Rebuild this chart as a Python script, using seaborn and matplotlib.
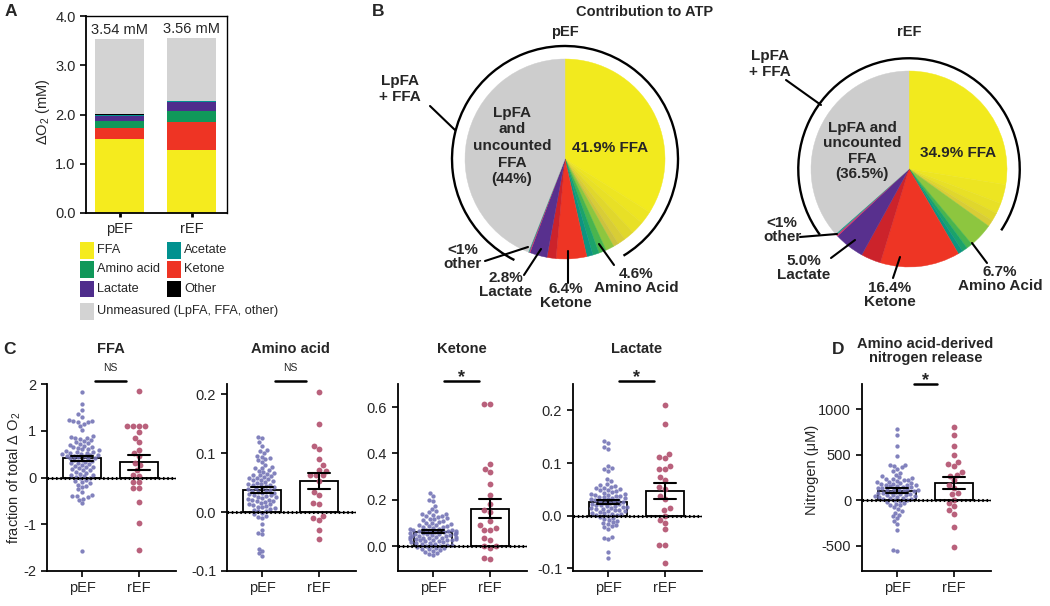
import numpy as np
import pandas as pd
import matplotlib.pyplot as plt
import seaborn as sns
from matplotlib.patches import Rectangle, Arc
from matplotlib.lines import Line2D

W, H = 1050, 606
groups = ["pEF", "rEF"]

# ---- A: oxygen consumption split by substrate (mM)
stack_names = ["FFA", "Ketone", "Amino acid", "Lactate", "Acetate", "Other", "Unmeasured"]
stack_colors = ["#F5EB1E", "#EE3424", "#10985A", "#4F2D8C", "#01918F", "#000000", "#D3D3D3"]
pef_o2 = [1.50, 0.23, 0.14, 0.10, 0.03, 0.003, 1.537]
ref_o2 = [1.28, 0.57, 0.23, 0.17, 0.03, 0.003, 1.277]
o2_totals = ["3.54 mM", "3.56 mM"]

# ---- B: contribution to ATP (%)
pie_cats = ["FFA", "Amino acid", "Ketone", "Lactate", "Other", "LpFA and uncounted FFA"]
pef_pct = [41.9, 4.6, 6.4, 2.8, 0.3, 44.0]
ref_pct = [34.9, 6.7, 16.4, 5.0, 0.5, 36.5]
# colour bands inside each slice (fraction of the slice)
pef_split = [[0.81, 0.05, 0.05, 0.04, 0.03, 0.02], [0.30, 0.26, 0.22, 0.22], [0.77, 0.23], [1.0], [0.5, 0.5], [1.0]]
ref_split = [[0.79, 0.09, 0.05, 0.04, 0.03], [0.60, 0.15, 0.13, 0.12], [0.80, 0.20], [1.0], [0.5, 0.5], [1.0]]
slice_shades = [
    ["#F2EA1E", "#EDE522", "#E8E026", "#E0D72C", "#D8CD36", "#CCC23E"],
    ["#8DC63F", "#49B54E", "#1BA36A", "#0E9480"],
    ["#EE3524", "#CC232B"],
    ["#58308E"],
    ["#D6336C", "#2A9D8F"],
    ["#CDCDCD"],
]

# ---- C / D: per-patient values
pef_ffa = [1.82, 1.58, 1.45, 1.35, 1.30, 1.22, 1.21, 1.20, 1.19, 1.18, 1.15, 1.10, 1.02,
           0.88, 0.86, 0.85, 0.84, 0.83, 0.80, 0.78, 0.75, 0.73, 0.72, 0.70, 0.68, 0.66, 0.65, 0.63, 0.62, 0.60,
           0.58, 0.57, 0.55, 0.54, 0.53, 0.52, 0.51, 0.50, 0.49, 0.48, 0.47, 0.46, 0.45, 0.44, 0.42, 0.41, 0.40,
           0.38, 0.37, 0.35, 0.33, 0.32, 0.30, 0.28, 0.27, 0.25, 0.23, 0.22, 0.20, 0.18, 0.16, 0.15, 0.12, 0.10,
           0.08, 0.06, 0.05, 0.03, 0.02, 0.00, -0.02, -0.05, -0.08, -0.10, -0.12, -0.15, -0.18, -0.20, -0.25,
           -0.30, -0.38, -0.40, -0.40, -0.42, -0.45, -0.48, -0.55, -1.57]
ref_ffa = [1.85, 1.11, 1.11, 1.11, 1.10, 0.97, 0.84, 0.75, 0.59, 0.52, 0.45, 0.32, 0.27, 0.16,
           0.06, 0.04, -0.09, -0.09, -0.22, -0.22, -0.53, -0.98, -1.55]

pef_aa = [0.128, 0.125, 0.118, 0.112, 0.105, 0.104, 0.100, 0.095, 0.094, 0.092,
          0.090, 0.088, 0.085, 0.080, 0.076, 0.075, 0.074, 0.072, 0.070, 0.068,
          0.066, 0.065, 0.063, 0.062, 0.061, 0.060, 0.058, 0.057, 0.056, 0.055,
          0.054, 0.052, 0.051, 0.050, 0.048, 0.047, 0.046, 0.045, 0.044, 0.042,
          0.041, 0.040, 0.039, 0.038, 0.036, 0.035, 0.034, 0.033, 0.032, 0.030,
          0.029, 0.028, 0.027, 0.026, 0.025, 0.024, 0.022, 0.021, 0.020, 0.019,
          0.018, 0.017, 0.015, 0.014, 0.013, 0.012, 0.010, 0.009, 0.008, 0.006,
          0.005, 0.004, 0.002, 0.001, -0.001, -0.004, -0.006, -0.008, -0.010, -0.020,
          -0.030, -0.035, -0.038, -0.062, -0.066, -0.070, -0.075]
ref_aa = [0.203, 0.150, 0.112, 0.106, 0.090, 0.079, 0.072, 0.070, 0.063, 0.062, 0.062,
          0.053, 0.034, 0.029, 0.016, 0.014, -0.006, -0.011, -0.014, -0.030, -0.046]

pef_ket = [0.228, 0.215, 0.200, 0.195, 0.175, 0.160, 0.150, 0.145, 0.140, 0.138,
           0.135, 0.130, 0.128, 0.125, 0.120, 0.118, 0.115, 0.112, 0.110, 0.105,
           0.100, 0.098, 0.095, 0.092, 0.090, 0.088, 0.085, 0.082, 0.080, 0.078,
           0.075, 0.072, 0.070, 0.068, 0.066, 0.064, 0.062, 0.060, 0.058, 0.056,
           0.054, 0.052, 0.050, 0.048, 0.046, 0.044, 0.042, 0.040, 0.038, 0.036,
           0.034, 0.032, 0.030, 0.028, 0.026, 0.024, 0.022, 0.020, 0.018, 0.016,
           0.014, 0.012, 0.010, 0.008, 0.006, 0.004, 0.002, 0.000,
           0.065, 0.055, 0.045, 0.035, 0.025, 0.050, 0.040, 0.030, 0.060, 0.070,
           -0.002, -0.005, -0.008, -0.010, -0.012, -0.015, -0.018, -0.020, -0.025, -0.030, -0.035, -0.040]
ref_ket = [0.614, 0.612, 0.355, 0.334, 0.321, 0.266, 0.220, 0.183, 0.155, 0.147, 0.108,
           0.089, 0.076, 0.068, 0.068, 0.033, 0.026, 0.000, 0.000, -0.007, -0.050, -0.055]

pef_lac = [0.142, 0.138, 0.130, 0.127, 0.095, 0.090, 0.088, 0.085, 0.070, 0.065,
           0.060, 0.058, 0.056, 0.055, 0.053, 0.052, 0.050, 0.049, 0.048, 0.046,
           0.045, 0.044, 0.042, 0.041, 0.040, 0.039, 0.038, 0.037, 0.036, 0.035,
           0.034, 0.033, 0.032, 0.031, 0.030, 0.029, 0.028, 0.027, 0.026, 0.025,
           0.024, 0.023, 0.022, 0.021, 0.020, 0.019, 0.018, 0.017, 0.016, 0.015,
           0.014, 0.013, 0.012, 0.011, 0.010, 0.009, 0.008, 0.007, 0.006, 0.005,
           0.004, 0.003, 0.002, 0.001, 0.000,
           -0.002, -0.004, -0.006, -0.008, -0.010, -0.012, -0.014, -0.016, -0.018, -0.020,
           -0.022, -0.025, -0.040, -0.042, -0.045, -0.068, -0.080]
ref_lac = [0.211, 0.174, 0.117, 0.109, 0.111, 0.095, 0.089, 0.089, 0.073, 0.068, 0.054, 0.051,
           0.037, 0.032, 0.015, 0.011, 0.000, -0.008, -0.013, -0.025, -0.055, -0.055, -0.090]

pef_n = [780, 720, 590, 480, 390, 385, 375, 360, 340, 320,
         300, 280, 260, 250, 240, 235, 230, 225, 220, 210,
         200, 195, 190, 185, 180, 175, 170, 165, 160, 155,
         150, 145, 140, 135, 130, 125, 120, 115, 110, 105,
         100, 95, 90, 85, 80, 75, 70, 65, 60, 55,
         50, 45, 40, 35, 30, 25, 20, 15, 10, 5,
         0, -10, -20, -30, -40, -50, -60, -80, -100, -120,
         -140, -160, -180, -200, -230, -260, -330, -550, -565]
ref_n = [803, 719, 595, 493, 420, 391, 372, 310, 274, 266, 219, 164, 128, 73, 62, 0,
         -36, -66, -110, -150, -292, -518]

pef_color = "#7474B6"
ref_color = "#B2506E"

sns.set_style("ticks")
plt.rcParams["font.family"] = ["Liberation Sans", "DejaVu Sans"]
plt.rcParams["axes.unicode_minus"] = False
plt.rcParams["mathtext.default"] = "regular"

fig = plt.figure(figsize=(10.5, 6.06), dpi=100)


def px_axes(x0, y0, x1, y1):
    return fig.add_axes([x0 / W, 1 - y1 / H, (x1 - x0) / W, (y1 - y0) / H])


def ftext(x, y, s, **kw):
    kw.setdefault("ha", "center")
    kw.setdefault("va", "center")
    return fig.text(x / W, 1 - y / H, s, **kw)


def fline(x0, y0, x1, y1, lw=1.5):
    fig.add_artist(Line2D([x0 / W, x1 / W], [1 - y0 / H, 1 - y1 / H],
                          transform=fig.transFigure, color="black", lw=lw))


def style_ticks(ax):
    ax.tick_params(axis="both", direction="out", length=4, width=1.2, labelsize=10.5, color="black")
    for s in ax.spines.values():
        s.set_linewidth(1.3)
        s.set_color("black")


# ---------------- panel A
axA = px_axes(86, 16, 227, 213)
cum = np.cumsum([pef_o2, ref_o2], axis=1)
for i in reversed(range(len(stack_names))):
    sns.barplot(x=groups, y=cum[:, i], color=stack_colors[i], saturation=1, width=0.68,
                errorbar=None, linewidth=0, ax=axA)
axA.set_xlim(-0.47, 1.49)
axA.set_ylim(0, 4)
axA.set_yticks([0, 1, 2, 3, 4])
axA.set_yticklabels(["0.0", "1.0", "2.0", "3.0", "4.0"])
for i, t in enumerate(o2_totals):
    axA.text(i, cum[i, -1] + 0.04, t, ha="center", va="bottom", fontsize=10.5)
axA.set_xlabel("")
axA.set_ylabel("")
style_ticks(axA)
axA.tick_params(axis="x", length=3, width=2)
axA.spines["top"].set_linewidth(1.0)
axA.spines["right"].set_linewidth(1.0)
ftext(43, 112, "ΔO$_2$ (mM)", rotation=90, fontsize=10.5)

# legend for A
cmap = dict(zip(stack_names, stack_colors))
legend_left = ["FFA", "Amino acid", "Lactate"]
legend_right = ["Acetate", "Ketone", "Other"]
rows = [250, 269, 289]
for names, bx in [(legend_left, 80), (legend_right, 167)]:
    for name, ry in zip(names, rows):
        fig.add_artist(Rectangle((bx / W, 1 - (ry + 8.5) / H), 14 / W, 17 / H,
                                 transform=fig.transFigure, facecolor=cmap[name], edgecolor="none"))
        ftext(bx + 17, ry, name, ha="left", fontsize=9.2)
fig.add_artist(Rectangle((80 / W, 1 - (311 + 8.5) / H), 14 / W, 17 / H,
                         transform=fig.transFigure, facecolor=cmap["Unmeasured"], edgecolor="none"))
ftext(97, 311, "Unmeasured (LpFA, FFA, other)", ha="left", fontsize=9.2)

# ---------------- panel B
bold = dict(fontweight="bold", fontsize=11)
ftext(645, 12, "Contribution to ATP", fontweight="bold", fontsize=10.5)
pie_specs = [("pEF", pef_pct, pef_split, 565, 159, 100), ("rEF", ref_pct, ref_split, 909, 169, 98)]
for name, pct, split, cx, cy, r in pie_specs:
    ax = px_axes(cx - 1.6 * r, cy - 1.6 * r, cx + 1.6 * r, cy + 1.6 * r)
    vals, cols = [], []
    for p, fr, shades in zip(pct, split, slice_shades):
        for f, c in zip(fr, shades):
            vals.append(p * f)
            cols.append(c)
    wedges, _ = ax.pie(vals, colors=cols, startangle=90, counterclock=False,
                       wedgeprops=dict(linewidth=0.3))
    for w in wedges:
        w.set_edgecolor(w.get_facecolor())
    ax.set_xlim(-1.6, 1.6)
    ax.set_ylim(-1.6, 1.6)
    t1 = 90 - pct[0] * 3.6 + 2
    t2 = 90 + pct[-1] * 3.6 - 5
    ax.add_patch(Arc((0, 0), 2.26, 2.26, theta1=t1, theta2=t2, lw=1.7, color="black"))
    ftext(cx, 32, name, fontweight="bold", fontsize=10.5)

# pEF labels
ftext(400, 89, "LpFA\n+ FFA", linespacing=1.1, **bold)
fline(430, 106, 455, 130)
ftext(512, 146, "LpFA\nand\nuncounted\nFFA\n(44%)", linespacing=1.25, **bold)
ftext(610, 148, "41.9% FFA", **bold)
ftext(463, 257, "<1%\nother", linespacing=1.0, **bold)
fline(485, 261, 528, 247)
ftext(506, 285, "2.8%\nLactate", linespacing=1.0, **bold)
fline(524, 275, 541, 249)
ftext(566, 296, "6.4%\nKetone", linespacing=1.0, **bold)
fline(568, 283, 568, 251)
ftext(636, 281, "4.6%\nAmino Acid", linespacing=1.0, **bold)
fline(614, 265, 599, 244)

# rEF labels
ftext(770, 64, "LpFA\n+ FFA", linespacing=1.1, **bold)
fline(786, 80, 821, 105)
ftext(862, 151, "LpFA and\nuncounted\nFFA\n(36.5%)", linespacing=1.15, **bold)
ftext(958, 153, "34.9% FFA", **bold)
ftext(782, 230, "<1%\nother", linespacing=1.0, **bold)
fline(800, 237, 837, 234)
ftext(804, 268, "5.0%\nLactate", linespacing=1.0, **bold)
fline(831, 258, 855, 240)
ftext(890, 295, "16.4%\nKetone", linespacing=1.0, **bold)
fline(893, 278, 900, 257)
ftext(1000, 279, "6.7%\nAmino Acid", linespacing=1.0, **bold)
fline(987, 263, 972, 243)

# ---------------- panels C and D
unit = 57
c_specs = [
    ("FFA", pef_ffa, ref_ffa, 82, (-2, 2), [-2, -1, 0, 1, 2], "{:.0f}", "NS", 381),
    ("Amino acid", pef_aa, ref_aa, 262, (-0.1, 0.217), [-0.1, 0, 0.1, 0.2], "{:.1f}", "NS", 381),
    ("Ketone", pef_ket, ref_ket, 433, (-0.108, 0.70), [0, 0.2, 0.4, 0.6], "{:.1f}", "*", 381),
    ("Lactate", pef_lac, ref_lac, 608, (-0.105, 0.25), [-0.1, 0, 0.1, 0.2], "{:.1f}", "*", 381),
    ("Amino acid-derived\nnitrogen release", pef_n, ref_n, 897, (-780, 1275),
     [-500, 0, 500, 1000], "{:.0f}", "*", 384),
]
for title, p, r, px0, ylim, ticks, fmt, sig, sy in c_specs:
    ax = px_axes(px0 - 0.62 * unit, 384, px0 + 1.65 * unit, 571)
    df = pd.DataFrame({"group": ["pEF"] * len(p) + ["rEF"] * len(r), "value": p + r})
    sns.barplot(data=df, x="group", y="value", order=groups, errorbar="se", capsize=0.4,
                width=0.66, color="white", saturation=1, edgecolor="black", linewidth=1.3,
                err_kws={"color": "black", "linewidth": 1.5, "zorder": 6}, ax=ax)
    for g, c, s in [("pEF", pef_color, 3.1), ("rEF", ref_color, 4.2)]:
        sns.swarmplot(data=df[df["group"] == g], x="group", y="value", order=groups,
                      color=c, size=s, alpha=0.9, ax=ax, zorder=3)
    ax.axhline(0, color="black", lw=1.0, zorder=4)
    ax.axhline(0, color="black", lw=2.2, ls=(0, (0.5, 0.9)), zorder=4)
    ax.set_xlim(-0.62, 1.65)
    ax.set_ylim(*ylim)
    ax.set_yticks(ticks)
    ax.set_yticklabels([fmt.format(t) for t in ticks])
    ax.set_xlabel("")
    ax.set_ylabel("")
    sns.despine(ax=ax)
    style_ticks(ax)

    tx = px0 + 0.5 * unit
    if "\n" in title:
        ftext(tx, 351, title, fontweight="bold", fontsize=10.5, linespacing=1.0)
    else:
        ftext(tx, 349, title, fontweight="bold", fontsize=10.5)
    half = 0.28 if sig == "NS" else (0.2 if "\n" in title else 0.3)
    fline(tx - half * unit, sy, tx + half * unit, sy, lw=1.8)
    if sig == "NS":
        ftext(tx, 368, "NS", fontsize=7.5)
    else:
        ftext(tx, sy + 1, "*", va="baseline", fontsize=13, fontweight="bold")

ftext(14, 478, "fraction of total Δ O$_2$", rotation=90, fontsize=10.5)
ftext(812, 470, "Nitrogen (μM)", rotation=90, fontsize=10.5)

# panel letters
for letter, x, y in [("A", 11, 12), ("B", 378, 12), ("C", 9, 350), ("D", 838, 350)]:
    ftext(x, y, letter, fontweight="bold", fontsize=12.5)

fig.savefig("out.png", dpi=100)
